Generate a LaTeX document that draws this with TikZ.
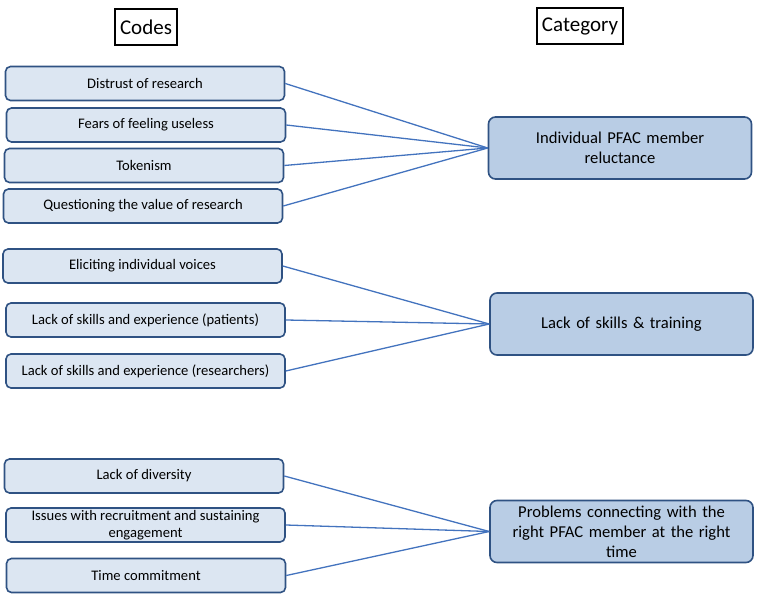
\documentclass[tikz,border=0pt]{standalone}
\usepackage{fontspec}
\setmainfont{Carlito}
\usepackage{tikz}
\usetikzlibrary{positioning}

\definecolor{codefill}{HTML}{DCE6F2}
\definecolor{catfill}{HTML}{B9CDE5}
\definecolor{boxline}{HTML}{2F5283}
\definecolor{linkblue}{HTML}{4373BE}

\tikzset{
  codebox/.style={draw=boxline,fill=codefill,line width=1.6pt,rounded corners=5pt,
    minimum width=279pt,minimum height=34pt,inner sep=1pt,align=center,
    font=\fontsize{14.6}{16.7}\selectfont},
  catbox/.style={draw=boxline,fill=catfill,line width=1.6pt,rounded corners=7pt,
    minimum width=263pt,minimum height=62pt,text width=230pt,inner sep=1pt,align=center,
    font=\fontsize{16.6}{19.8}\selectfont},
  headbox/.style={draw,line width=1.4pt,minimum height=36pt,inner sep=5pt,
    font=\fontsize{21}{24}\selectfont},
  link/.style={draw=linkblue,line width=1.3pt}
}

\begin{document}
\begin{tikzpicture}[x=1pt,y=-1pt]
          \useasboundingbox (0,0) rectangle (757,596);
          \node[headbox] (codes) at (146,27){Codes};
          \node[headbox] (category) at (580,26){Category};
          % codes
          \node[codebox] (c1) at (145,83.5){Distrust of research};
          \node[codebox] (c2) at (146,125){Fears of feeling useless};
          \node[codebox] (c3) at (144,165.5){Tokenism};
          \node[codebox] (c4) at (143,206){Questioning the value of research};
          \node[codebox] (c5) at (142.5,266){Eliciting individual voices};
          \node[codebox] (c6) at (145.5,320){Lack of skills and experience (patients)};
          \node[codebox] (c7) at (145.5,371){Lack of skills and experience (researchers)};
          \node[codebox] (c8) at (144,476){Lack of diversity};
          \node[codebox] (c9) at (145.5,525){Issues with recruitment and sustaining\\engagement};
          \node[codebox] (c10) at (146,575.5){Time commitment};
          % categories
          \node[catbox] (reluct) at (620,148){Individual PFAC member\\reluctance};
          \node[catbox] (skills) at (621.5,324){Lack of skills \& training};
          \node[catbox] (connect) at (621.5,531.5){Problems connecting with the\\right PFAC member at the right\\time};
          \foreach \c in {c1,c2,c3,c4}
            \draw[link] (\c.east) -- (reluct.west);
          \foreach \c in {c5,c6,c7}
            \draw[link] (\c.east) -- (skills.west);
          \foreach \c in {c8,c9,c10}
            \draw[link] (\c.east) -- (connect.west);
        \end{tikzpicture}
\end{document}
